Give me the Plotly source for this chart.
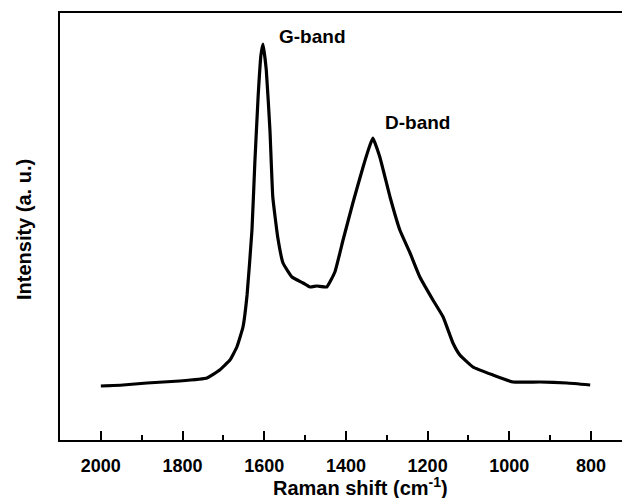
import plotly.graph_objects as go

# Raman spectrum
raman_shift = [2000, 1946, 1887, 1807, 1740, 1709, 1684, 1667, 1652, 1642, 1630, 1623,
               1615, 1608, 1603, 1595, 1586, 1579, 1567, 1554, 1532, 1505, 1488, 1471,
               1447, 1427, 1407, 1383, 1358, 1341, 1334, 1317, 1292, 1268, 1243, 1219,
               1187, 1162, 1138, 1121, 1089, 1040, 991, 925, 859, 802]
intensity = [54, 55, 57, 59, 62, 70, 80, 93, 113, 145, 210, 277,
             343, 385, 396, 370, 310, 243, 203, 177, 163, 157, 153, 154,
             153, 168, 200, 237, 273, 295, 302, 283, 243, 210, 187, 163,
             140, 123, 97, 85, 73, 65, 58, 58, 57, 55]

band_labels = ["G-band", "D-band"]
band_label_x = [1569, 1309]
band_label_y = [404, 318]

x_ticks = [2000, 1800, 1600, 1400, 1200, 1000, 800]

FONT = "Liberation Sans, Arial, sans-serif"

fig = go.Figure()
fig.add_trace(go.Scatter(
    x=raman_shift, y=intensity, mode="lines",
    line=dict(color="black", width=3.2, shape="spline", smoothing=0.35),
    showlegend=False, hoverinfo="skip",
))

for txt, lx, ly in zip(band_labels, band_label_x, band_label_y):
    fig.add_annotation(x=lx, y=ly, xref="x", yref="y", text=txt, showarrow=False,
                       xanchor="left", yanchor="middle",
                       font=dict(family=FONT, size=19, color="black", weight="bold"))

# axis titles
fig.add_annotation(x=(360 - 60) / 580, y=-0.11, xref="paper", yref="paper",
                   text="Raman shift (cm<sup>-1</sup>)", showarrow=False,
                   xanchor="center", yanchor="middle",
                   font=dict(family=FONT, size=20, color="black", weight="bold"))
fig.add_annotation(x=(24 - 60) / 580, y=(440 - 230) / 427, xref="paper", yref="paper",
                   text="Intensity (a. u.)", showarrow=False, textangle=-90,
                   xanchor="center", yanchor="middle",
                   font=dict(family=FONT, size=20, color="black", weight="bold"))

fig.update_layout(
    width=640, height=498,
    margin=dict(l=60, r=0, t=13, b=58),
    paper_bgcolor="white", plot_bgcolor="white",
    font=dict(family=FONT, color="black"),
    xaxis=dict(
        range=[2100, 680], tickvals=x_ticks, automargin=False,
        ticks="inside", ticklen=9, tickwidth=2, tickcolor="black",
        minor=dict(ticks="inside", ticklen=5, tickwidth=2, dtick=100, tick0=0, tickcolor="black"),
        showline=True, linecolor="black", linewidth=2, mirror=True,
        showgrid=False, zeroline=False,
        tickfont=dict(family=FONT, size=18, color="black", weight="bold"),
        ticklabelstandoff=8,
    ),
    yaxis=dict(
        range=[0, 427], showticklabels=False, ticks="", automargin=False,
        showline=True, linecolor="black", linewidth=2,
        showgrid=False, zeroline=False,
    ),
)

fig.write_html(
    "out.html",
    config={"displayModeBar": False},
    post_script=("document.body.style.margin='0';document.body.style.overflow='hidden';"
                 "document.documentElement.style.overflow='hidden';"),
)
